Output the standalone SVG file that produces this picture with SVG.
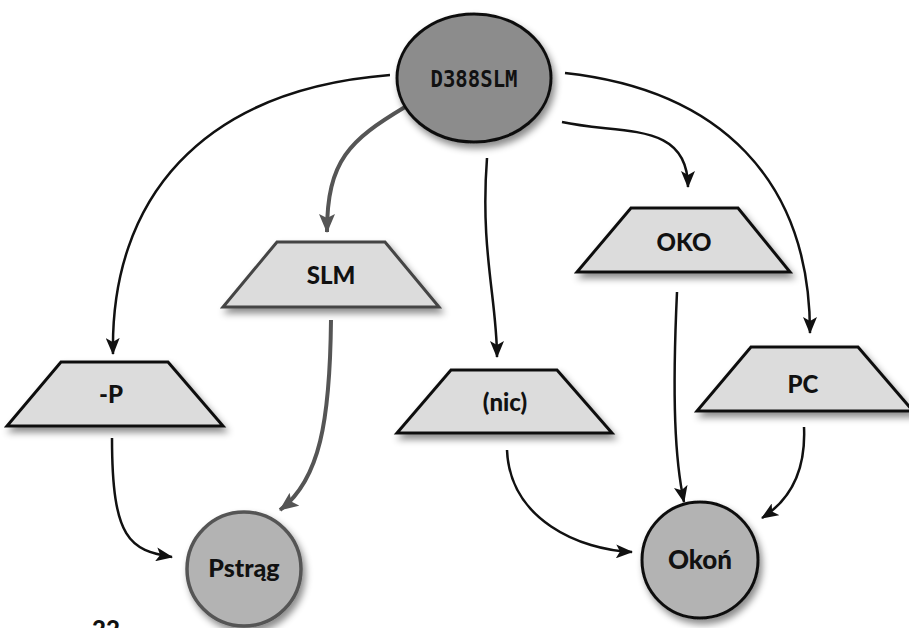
<svg xmlns="http://www.w3.org/2000/svg" width="909" height="628" viewBox="0 0 909 628">
<style>
.lbl{font-family:Lato,"Open Sans","Liberation Sans",sans-serif;font-weight:900;font-size:24px;text-anchor:middle;fill:#111}
.trap{fill:#dcdcdc;stroke:#111;stroke-width:3;stroke-linejoin:miter}
.c{fill:none;stroke:#111;stroke-width:2.5}
.g{fill:none;stroke:#555;stroke-width:4}
</style>
<defs>
<filter id="sh" x="-20%" y="-20%" width="150%" height="160%">
<feDropShadow dx="3" dy="5" stdDeviation="3.5" flood-color="#000" flood-opacity="0.45"/>
</filter>
<marker id="ab" markerUnits="userSpaceOnUse" markerWidth="18" markerHeight="14" refX="16" refY="7" orient="auto">
<path d="M0,0 L17,7 L0,14 L4,7 Z" fill="#111"/>
</marker>
<marker id="ag" markerUnits="userSpaceOnUse" markerWidth="20" markerHeight="16" refX="18" refY="8" orient="auto">
<path d="M0,0 L19,8 L0,16 L4,8 Z" fill="#555"/>
</marker>
</defs>
<g id="connectors">
<path class="c" d="M390,75 C200,90 110,200 113,354" marker-end="url(#ab)"/>
<path class="g" d="M405,107 C350,140 327,160 327,232" marker-end="url(#ag)"/>
<path class="c" d="M487,158 C480,250 497,300 497,357" marker-end="url(#ab)"/>
<path class="c" d="M562,122 C620,135 688,120 688,187" marker-end="url(#ab)"/>
<path class="c" d="M565,73 C720,90 810,180 810,333" marker-end="url(#ab)"/>
<path class="c" d="M112,438 C112,540 130,550 172,557" marker-end="url(#ab)"/>
<path class="g" d="M331,320 C330,420 320,480 280,510" marker-end="url(#ag)"/>
<path class="c" d="M507,450 C510,520 580,550 632,552" marker-end="url(#ab)"/>
<path class="c" d="M677,292 C672,400 675,460 684,502" marker-end="url(#ab)"/>
<path class="c" d="M804,427 C806,470 790,500 762,518" marker-end="url(#ab)"/>
</g>
<g id="D388SLM">
<ellipse cx="474" cy="78" rx="77" ry="64" fill="#8c8c8c" stroke="#111" stroke-width="3" filter="url(#sh)"/>
<text x="474" y="87" font-family="'DejaVu Sans Mono','Liberation Mono',monospace" font-weight="bold" font-size="23" text-anchor="middle" textLength="87" lengthAdjust="spacingAndGlyphs" fill="#111">D388SLM</text>
</g>
<g id="SLM">
<polygon points="277,242 385,242 439,307 223,307" class="trap" style="stroke:#444" filter="url(#sh)"/>
<text class="lbl" x="331" y="284">SLM</text>
</g>
<g id="P">
<polygon points="61,362 168,362 223,426 7,426" class="trap" filter="url(#sh)"/>
<text class="lbl" x="111" y="403">-P</text>
</g>
<g id="nic">
<polygon points="451,370 557,370 612,433 397,433" class="trap" filter="url(#sh)"/>
<text class="lbl" x="505" y="411">(nic)</text>
</g>
<g id="OKO">
<polygon points="631,208 738,208 790,272 577,272" class="trap" filter="url(#sh)"/>
<text class="lbl" x="684" y="251">OKO</text>
</g>
<g id="PC">
<polygon points="751,347 858,347 913,411 697,411" class="trap" filter="url(#sh)"/>
<text class="lbl" x="803" y="393">PC</text>
</g>
<g id="Pstrag">
<circle cx="244" cy="569" r="57" fill="#b3b3b3" stroke="#555" stroke-width="3.5" filter="url(#sh)"/>
<text class="lbl" x="244" y="577" style="font-size:25px">Pstrąg</text>
</g>
<g id="Okon">
<circle cx="700" cy="560" r="58" fill="#b3b3b3" stroke="#111" stroke-width="3" filter="url(#sh)"/>
<text class="lbl" x="700" y="569" style="font-size:26px">Okoń</text>
</g>
<text x="92" y="638" font-family="Lato,'Liberation Sans',sans-serif" font-weight="900" font-size="24" fill="#111">22</text>
</svg>
